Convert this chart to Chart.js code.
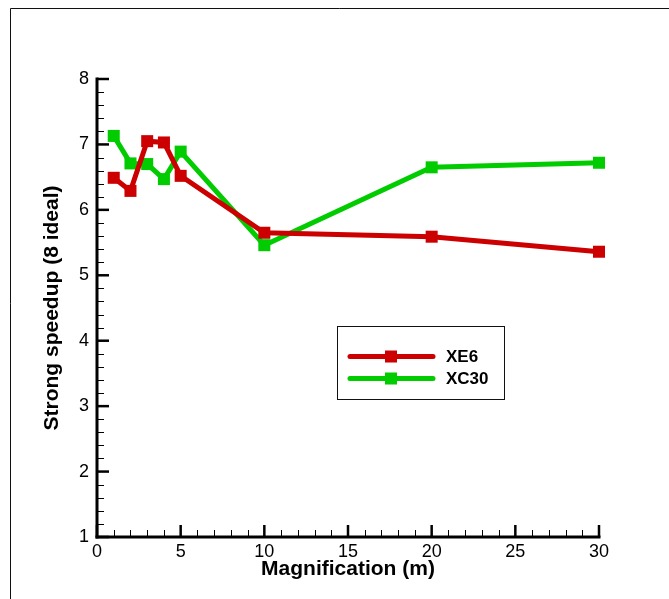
<!DOCTYPE html>
<html>
<head>
<meta charset="utf-8">
<script src="https://cdn.jsdelivr.net/npm/chart.js@4"></script>
<style>
  html, body { margin: 0; padding: 0; background: #fff; }
  #wrap { width: 669px; height: 599px; }
</style>
</head>
<body>
<div id="wrap"><canvas id="chart" width="669" height="599"></canvas></div>
<script>
// Data
const magnification = [1, 2, 3, 4, 5, 10, 20, 30];
const xe6Speedup = [6.49, 6.29, 7.05, 7.03, 6.52, 5.65, 5.59, 5.36];
const xc30Speedup = [7.13, 6.71, 6.70, 6.47, 6.89, 5.46, 6.65, 6.72];
const seriesNames = ['XE6', 'XC30'];
const xTicks = [0, 5, 10, 15, 20, 25, 30];
const yTicks = [1, 2, 3, 4, 5, 6, 7, 8];

const RED = '#cc0000';
const GREEN = '#00cc00';
const FONT = '"Liberation Sans", Arial, Helvetica, sans-serif';

function toPoints(xs, ys) {
    return xs.map((x, i) => ({ x: x, y: ys[i] }));
}

function strokeLine(ctx, x1, y1, x2, y2) {
    ctx.beginPath();
    ctx.moveTo(x1, y1);
    ctx.lineTo(x2, y2);
    ctx.stroke();
}

// Outer frame (only top and left edges are visible in the picture)
const framePlugin = {
    id: 'frame',
    beforeDraw(chart) {
        const ctx = chart.ctx;
        ctx.save();
        ctx.strokeStyle = '#111';
        ctx.lineWidth = 1;
        strokeLine(ctx, 10.5, 8.5, 10.5, chart.height);
        strokeLine(ctx, 10.5, 8.5, chart.width, 8.5);
        ctx.restore();
    }
};

// Axis lines with inward ticks
const axesPlugin = {
    id: 'axesInward',
    afterDatasetsDraw(chart) {
        const { ctx, chartArea: a, scales: { x, y } } = chart;
        ctx.save();
        ctx.strokeStyle = '#000';

        // minor ticks
        ctx.lineWidth = 1;
        for (let v = 0; v <= 30; v++) {
            if (v % 5 === 0) continue;
            const px = Math.round(x.getPixelForValue(v)) + 0.5;
            strokeLine(ctx, px, a.bottom, px, a.bottom - 7);
        }
        for (let i = 5; i <= 40; i++) {
            if (i % 5 === 0) continue;
            const py = Math.round(y.getPixelForValue(i / 5)) + 0.5;
            strokeLine(ctx, a.left, py, a.left + 7, py);
        }

        // major ticks
        ctx.lineWidth = 2.5;
        xTicks.forEach(v => {
            const px = x.getPixelForValue(v);
            strokeLine(ctx, px, a.bottom, px, a.bottom - 12);
        });
        yTicks.forEach(v => {
            const py = y.getPixelForValue(v);
            strokeLine(ctx, a.left, py, a.left + 12, py);
        });

        // axis lines
        ctx.lineWidth = 3;
        ctx.lineCap = 'square';
        strokeLine(ctx, a.left, a.top, a.left, a.bottom);
        strokeLine(ctx, a.left, a.bottom, a.right, a.bottom);
        ctx.restore();
    }
};

// Boxed legend inside the plot area
const legendBoxPlugin = {
    id: 'legendBox',
    afterDraw(chart) {
        const { ctx, chartArea: a } = chart;
        const left = a.left + 240;
        const top = a.top + 247;
        ctx.save();
        ctx.strokeStyle = '#111';
        ctx.lineWidth = 1;
        ctx.strokeRect(left + 0.5, top + 0.5, 167, 73);
        chart.data.datasets.forEach((ds, i) => {
            const yy = top + 30.5 + i * 22;
            ctx.strokeStyle = ds.borderColor;
            ctx.lineWidth = 5;
            ctx.lineCap = 'round';
            strokeLine(ctx, left + 13, yy, left + 96, yy);
            ctx.fillStyle = ds.backgroundColor;
            ctx.fillRect(left + 48, yy - 6, 12, 12);
            ctx.fillStyle = '#000';
            ctx.font = 'bold 17px ' + FONT;
            ctx.textBaseline = 'middle';
            ctx.textAlign = 'left';
            ctx.fillText(ds.label, left + 109, yy + 1);
        });
        ctx.restore();
    }
};

function makeDataset(label, ys, color) {
    return {
        label: label,
        data: toPoints(magnification, ys),
        borderColor: color,
        backgroundColor: color,
        borderWidth: 5,
        pointStyle: 'rect',
        pointRadius: 8.5,
        pointHoverRadius: 8.5,
        pointBorderWidth: 0,
        tension: 0,
        clip: false
    };
}

const ctx = document.getElementById('chart');
const chart = new Chart(ctx, {
    type: 'line',
    data: {
        datasets: [
            makeDataset(seriesNames[0], xe6Speedup, RED),
            makeDataset(seriesNames[1], xc30Speedup, GREEN)
        ]
    },
    options: {
        responsive: false,
        animation: false,
        devicePixelRatio: 1,
        layout: { padding: { top: 79, right: 70, bottom: 0, left: 0 } },
        plugins: {
            legend: { display: false },
            tooltip: { enabled: false }
        },
        scales: {
            x: {
                type: 'linear',
                min: 0,
                max: 30,
                afterFit(scale) { scale.height = 62; },
                afterBuildTicks(scale) { scale.ticks = xTicks.map(v => ({ value: v })); },
                grid: { display: false, drawTicks: false },
                border: { display: false },
                ticks: {
                    color: '#000',
                    padding: 4,
                    maxRotation: 0,
                    font: { family: FONT, size: 18 }
                },
                title: {
                    display: true,
                    text: 'Magnification (m)',
                    color: '#000',
                    padding: { top: 0, bottom: 17 },
                    font: { family: FONT, size: 21, weight: 'bold' }
                }
            },
            y: {
                type: 'linear',
                min: 1,
                max: 8,
                afterFit(scale) { scale.width = 97; },
                afterBuildTicks(scale) { scale.ticks = yTicks.map(v => ({ value: v })); },
                grid: { display: false, drawTicks: false },
                border: { display: false },
                ticks: {
                    color: '#000',
                    padding: 8,
                    font: { family: FONT, size: 18 }
                },
                title: {
                    display: true,
                    text: 'Strong speedup (8 ideal)',
                    color: '#000',
                    padding: { top: 40, bottom: 0 },
                    font: { family: FONT, size: 21, weight: 'bold' }
                }
            }
        }
    },
    plugins: [framePlugin, axesPlugin, legendBoxPlugin]
});
</script>
</body>
</html>
